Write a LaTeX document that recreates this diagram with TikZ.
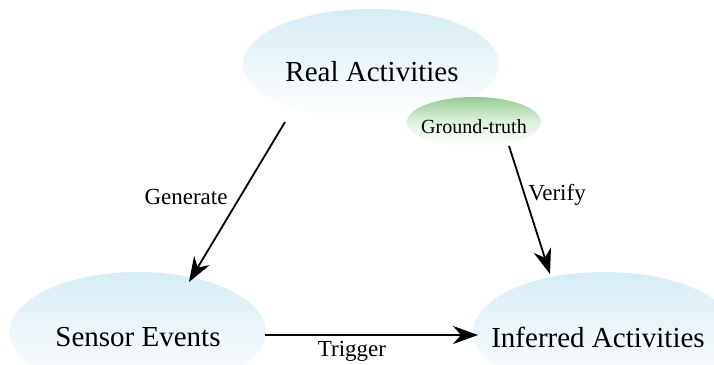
\documentclass[tikz,border=0pt]{standalone}
\usepackage{fontspec}
\setmainfont{Liberation Serif}
\usetikzlibrary{arrows.meta,shapes.geometric}
\definecolor{skyt}{RGB}{214,236,244}
\definecolor{grnt}{RGB}{150,205,150}
\tikzset{
  bluell/.style={ellipse, inner sep=0pt, top color=skyt, bottom color=white, middle color=skyt!45, draw=none, font=\fontsize{29}{32}\selectfont},
  greenell/.style={ellipse, inner sep=0pt, top color=grnt, bottom color=white, middle color=grnt!30, draw=none, font=\fontsize{20}{22}\selectfont},
  conn/.style={line width=1.8pt, -{Stealth[length=25pt,width=18pt,inset=8pt]}},
  lbl/.style={font=\fontsize{23}{25}\selectfont, inner sep=0pt}
}
\begin{document}
\begin{tikzpicture}[x=1pt,y=-1pt]
\useasboundingbox (0,0) rectangle (714,364);
\clip (0,0) rectangle (714,364);
\fill[white] (0,0) rectangle (714,364);
\node[bluell, minimum width=256pt, minimum height=110pt] (ra) at (371,64) {};
\node at (372,72) {\fontsize{29}{32}\selectfont Real Activities};
\node[greenell, minimum width=134pt, minimum height=50pt] (gt) at (474,122) {};
\node at (474,127) {\fontsize{20}{22}\selectfont Ground-truth};
\node[bluell, minimum width=256pt, minimum height=120pt] (se) at (138,332) {};
\node at (138,337) {\fontsize{29}{32}\selectfont Sensor Events};
\node[bluell, minimum width=262pt, minimum height=120pt] (ia) at (604,332) {};
\node at (598,337) {\fontsize{29}{32}\selectfont Inferred Activities};
\coordinate (g1) at (285,122);
\coordinate (g2) at (189,282);
\coordinate (v1) at (509,146);
\coordinate (v2) at (550,274);
\coordinate (t1) at (265,335);
\coordinate (t2) at (478,335);
\draw[conn] (g1) -- (g2);
\draw[conn] (v1) -- (v2);
\draw[conn] (t1) -- (t2);
\node[lbl] (lg) at (186,197) {Generate};
\node[lbl] (lv) at (557,195) {Verify};
\node[lbl] (lt) at (352,351) {Trigger};
\end{tikzpicture}
\end{document}
